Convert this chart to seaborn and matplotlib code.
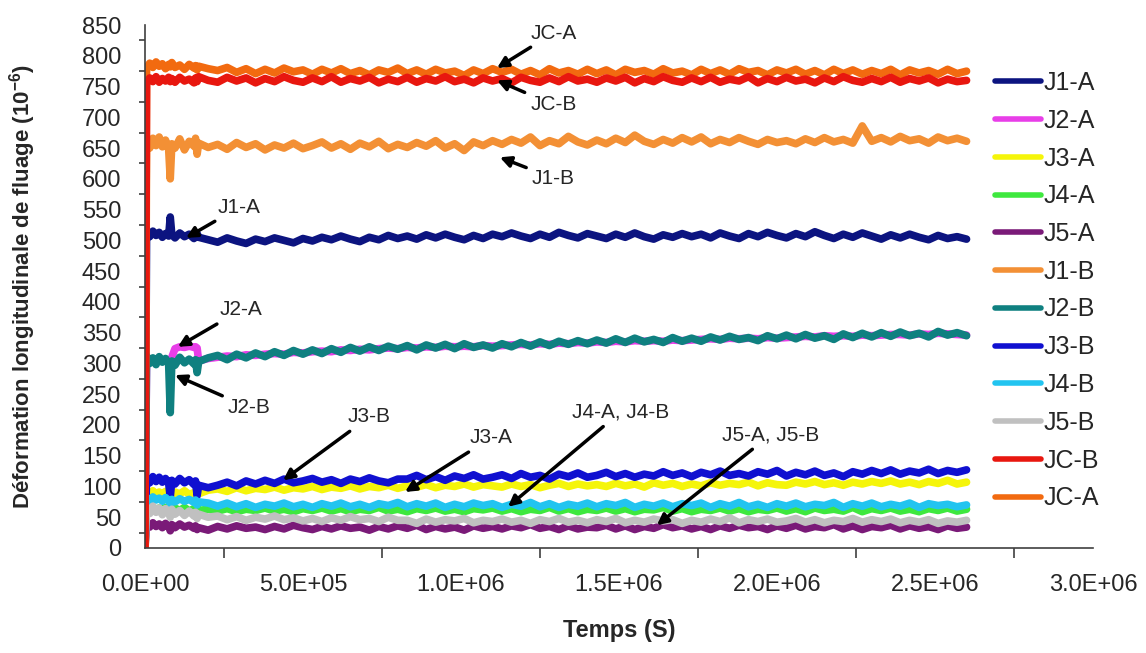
import matplotlib
matplotlib.use("Agg")
import matplotlib.pyplot as plt
import seaborn as sns
from matplotlib.ticker import MultipleLocator, AutoMinorLocator, FuncFormatter

# ── Data ──────────────────────────────────────────────────────────────────────
# time in seconds: 20 start-up samples, then every 3e4 s up to 2.6e6 s
temps = [0, 5e3, 1.5e4, 2.5e4, 3.5e4, 4.5e4, 5.5e4, 6.5e4, 7.5e4, 8e4,
         8.5e4, 9.5e4, 1.1e5, 1.25e5, 1.4e5, 1.55e5, 1.6e5, 1.65e5, 1.7e5, 2.0e5] + \
        [2.3e5 + 3e4 * k for k in range(80)]

j1_a = [0, 512, 506, 515, 508, 513, 505, 511, 507, 538,
        509, 504, 512, 506, 510, 503, 508, 511, 505, 501,
        497, 504, 499, 495, 502, 498, 504, 500, 496, 503,
        499, 505, 501, 507, 502, 498, 505, 501, 508, 503,
        507, 502, 509, 504, 510, 505, 501, 508, 503, 510,
        506, 512, 507, 503, 510, 505, 513, 508, 504, 511,
        507, 503, 510, 505, 512, 506, 502, 509, 505, 511,
        506, 510, 504, 512, 507, 503, 511, 506, 513, 508,
        504, 511, 506, 514, 508, 503, 510, 505, 512, 507,
        502, 509, 504, 510, 505, 501, 508, 503, 506, 502]
j2_a = [0, 306, 303, 305, 302, 306, 304, 305, 303, 306,
        310, 324, 327, 326, 328, 326, 327, 325, 304, 308,
        310, 312, 311, 314, 313, 315, 316, 315, 318, 317,
        319, 320, 319, 322, 321, 323, 322, 324, 325, 324,
        326, 325, 327, 326, 328, 327, 328, 327, 329, 328,
        329, 330, 331, 330, 332, 331, 333, 332, 334, 333,
        335, 334, 336, 335, 337, 336, 337, 336, 338, 337,
        338, 339, 340, 339, 341, 340, 341, 340, 342, 341,
        342, 343, 344, 343, 345, 344, 345, 344, 346, 345,
        346, 347, 347, 346, 348, 347, 349, 348, 347, 346]
j3_a = [0, 92, 87, 93, 88, 91, 86, 92, 87, 90,
        86, 91, 88, 93, 87, 90, 85, 92, 88, 94,
        96, 92, 98, 93, 97, 95, 99, 94, 98, 96,
        100, 95, 99, 97, 101, 96, 100, 98, 102, 97,
        101, 99, 103, 98, 102, 100, 104, 99, 103, 101,
        99, 104, 100, 103, 98, 102, 105, 100, 104, 101,
        103, 100, 105, 101, 104, 99, 106, 102, 105, 100,
        104, 101, 106, 102, 105, 103, 107, 101, 106, 103,
        102, 107, 104, 108, 103, 106, 102, 107, 104, 108,
        105, 109, 104, 107, 103, 108, 105, 110, 104, 107]
j4_a = [0, 66, 61, 67, 62, 65, 60, 66, 61, 64,
        60, 65, 61, 66, 60, 64, 59, 65, 61, 63,
        60, 64, 59, 63, 61, 65, 60, 63, 59, 64,
        61, 65, 60, 64, 59, 63, 61, 66, 60, 63,
        59, 64, 61, 65, 60, 63, 59, 64, 62, 65,
        60, 64, 59, 63, 61, 66, 60, 64, 59, 63,
        61, 65, 60, 64, 59, 63, 62, 66, 60, 64,
        59, 63, 61, 65, 60, 64, 59, 63, 61, 65,
        60, 64, 59, 65, 61, 63, 60, 66, 59, 64,
        61, 65, 60, 63, 59, 64, 61, 65, 60, 63]
j5_a = [0, 40, 34, 41, 35, 39, 33, 40, 35, 28,
        38, 33, 39, 34, 37, 32, 36, 30, 33, 29,
        35, 31, 36, 32, 34, 30, 35, 31, 37, 33,
        30, 35, 31, 36, 32, 34, 29, 35, 31, 36,
        32, 37, 30, 35, 31, 34, 29, 36, 32, 35,
        31, 36, 33, 38, 32, 35, 30, 36, 31, 34,
        33, 37, 31, 36, 30, 35, 32, 38, 33, 36,
        31, 35, 30, 36, 32, 37, 33, 35, 30, 36,
        32, 37, 31, 35, 33, 38, 31, 36, 30, 35,
        33, 37, 31, 36, 32, 35, 30, 36, 32, 34]
j1_b = [0, 660, 650, 666, 654, 668, 652, 663, 648, 600,
        657, 650, 665, 647, 661, 653, 666, 640, 658, 651,
        656, 648, 659, 651, 657, 647, 655, 650, 658, 649,
        654, 660, 650, 657, 648, 658, 652, 661, 649, 656,
        651, 659, 653, 662, 650, 657, 646, 660, 654, 662,
        656, 664, 658, 668, 654, 662, 657, 669, 660, 655,
        663, 657, 666, 659, 671, 661, 656, 664, 658, 667,
        660, 668, 657, 664, 659, 667, 661, 656, 664, 659,
        662, 657, 665, 659, 667, 660, 664, 658, 686, 661,
        667, 660, 669, 662, 665, 658, 668, 662, 666, 661]
j2_b = [0, 312, 300, 309, 298, 311, 302, 308, 299, 220,
        304, 297, 310, 301, 307, 299, 306, 285, 303, 309,
        313, 306, 315, 309, 317, 311, 319, 313, 321, 315,
        322, 316, 324, 318, 326, 320, 327, 321, 328, 323,
        329, 322, 330, 325, 331, 324, 332, 326, 330, 325,
        332, 327, 334, 328, 335, 329, 336, 331, 337, 332,
        338, 333, 340, 334, 341, 335, 339, 334, 342, 336,
        341, 336, 343, 338, 344, 339, 342, 337, 345, 340,
        346, 340, 347, 341, 345, 339, 348, 342, 349, 343,
        350, 344, 351, 345, 349, 343, 352, 346, 350, 345]
j3_b = [0, 114, 106, 116, 108, 115, 107, 113, 105, 83,
        110, 104, 113, 106, 111, 103, 109, 85, 102, 98,
        102, 107, 101, 109, 104, 110, 105, 112, 106, 109,
        113, 107, 111, 105, 112, 108, 114, 109, 106, 112,
        112, 118, 111, 116, 110, 117, 113, 119, 112, 115,
        119, 113, 121, 115, 118, 112, 120, 116, 122, 115,
        118, 123, 116, 121, 115, 120, 117, 124, 118, 122,
        116, 123, 119, 125, 118, 121, 117, 124, 120, 126,
        117, 123, 119, 125, 118, 122, 116, 124, 120, 126,
        121, 127, 120, 125, 122, 128, 121, 126, 123, 127]
j4_b = [0, 82, 77, 83, 78, 81, 76, 82, 77, 72,
        79, 75, 80, 76, 79, 74, 78, 70, 75, 73,
        68, 73, 67, 72, 66, 71, 68, 73, 67, 71,
        66, 72, 68, 73, 67, 71, 66, 72, 69, 74,
        67, 72, 68, 73, 66, 71, 67, 73, 69, 72,
        66, 71, 68, 74, 67, 72, 66, 71, 68, 73,
        67, 72, 69, 74, 66, 71, 68, 73, 67, 72,
        69, 73, 66, 72, 68, 74, 67, 71, 66, 72,
        68, 73, 67, 71, 69, 74, 66, 72, 68, 73,
        67, 71, 68, 73, 66, 72, 69, 71, 67, 70]
j5_b = [0, 66, 56, 68, 58, 65, 54, 64, 57, 50,
        63, 55, 61, 53, 60, 52, 58, 48, 55, 50,
        52, 46, 51, 45, 50, 47, 52, 46, 49, 44,
        48, 43, 49, 45, 51, 46, 48, 43, 50, 45,
        45, 40, 47, 42, 46, 44, 48, 41, 45, 43,
        47, 42, 45, 40, 46, 43, 48, 42, 45, 41,
        46, 43, 48, 41, 45, 42, 47, 44, 46, 40,
        45, 42, 47, 43, 49, 41, 46, 43, 47, 42,
        44, 48, 42, 46, 41, 45, 43, 48, 42, 46,
        43, 47, 41, 45, 42, 46, 40, 44, 42, 45]
jc_b = [0, 756, 764, 758, 766, 757, 763, 759, 765, 758,
        763, 757, 765, 759, 762, 756, 764, 758, 766, 760,
        757, 765, 759, 764, 756, 763, 758, 766, 760, 757,
        764, 758, 766, 757, 763, 759, 765, 756, 762, 758,
        765, 757, 763, 759, 766, 758, 762, 756, 764, 759,
        763, 756, 765, 760, 757, 764, 758, 766, 759, 762,
        757, 764, 759, 765, 756, 763, 758, 766, 760, 757,
        764, 758, 765, 757, 762, 759, 766, 756, 763, 758,
        765, 759, 762, 756, 764, 758, 766, 760, 757, 763,
        758, 765, 757, 763, 759, 764, 756, 762, 758, 760]
jc_a = [0, 780, 788, 781, 790, 783, 787, 779, 786, 782,
        789, 781, 785, 778, 786, 780, 784, 777, 783, 779,
        776, 781, 773, 779, 771, 778, 772, 780, 774, 777,
        770, 778, 772, 779, 771, 776, 769, 777, 773, 780,
        771, 777, 770, 778, 772, 775, 768, 777, 771, 779,
        773, 778, 770, 776, 769, 779, 772, 776, 770, 778,
        771, 777, 769, 778, 773, 776, 770, 779, 772, 775,
        769, 778, 771, 777, 770, 779, 773, 776, 769, 777,
        772, 778, 770, 776, 769, 778, 771, 777, 770, 776,
        771, 778, 769, 777, 772, 776, 770, 778, 771, 775]

# legend order
noms = ["J1-A", "J2-A", "J3-A", "J4-A", "J5-A",
        "J1-B", "J2-B", "J3-B", "J4-B", "J5-B", "JC-B", "JC-A"]
series = {"J1-A": j1_a, "J2-A": j2_a, "J3-A": j3_a, "J4-A": j4_a, "J5-A": j5_a,
          "J1-B": j1_b, "J2-B": j2_b, "J3-B": j3_b, "J4-B": j4_b, "J5-B": j5_b,
          "JC-B": jc_b, "JC-A": jc_a}
couleurs = {"J1-A": "#0c1480", "J2-A": "#e83ee8", "J3-A": "#f5f50a",
            "J4-A": "#3ee83e", "J5-A": "#7a1a78", "J1-B": "#f39035",
            "J2-B": "#0f8080", "J3-B": "#1010d0", "J4-B": "#22c4f0",
            "J5-B": "#c0c0c0", "JC-B": "#e8170f", "JC-A": "#f26a10"}
# drawing order (JC-B sits on top of JC-A)
ordre_trace = ["J1-A", "J2-A", "J3-A", "J4-A", "J5-A",
               "J1-B", "J2-B", "J3-B", "J4-B", "J5-B", "JC-A", "JC-B"]

# annotations: label, text position, arrow head position
annotations = [
    ("JC-A", (1.22e6, 837), (1.114e6, 780)),
    ("JC-B", (1.22e6, 720), (1.114e6, 760)),
    ("J1-B", (1.225e6, 601), (1.123e6, 635)),
    ("J1-A", (2.31e5, 554), (1.30e5, 504)),
    ("J2-A", (2.37e5, 387), (1.04e5, 327)),
    ("J2-B", (2.63e5, 228), (0.95e5, 281)),
    ("J3-B", (6.42e5, 213), (4.37e5, 110)),
    ("J3-A", (1.028e6, 179), (8.23e5, 91)),
    ("J4-A, J4-B", (1.351e6, 221), (1.149e6, 67)),
    ("J5-A, J5-B", (1.826e6, 184), (1.62e6, 37)),
]

# ── Plot ───────────────────────────────────────────────────────────────────────
sns.set_style("white")
plt.rcParams["font.family"] = ["Liberation Sans", "DejaVu Sans"]
plt.rcParams["mathtext.fontset"] = "custom"
plt.rcParams["mathtext.rm"] = "Liberation Sans"
plt.rcParams["mathtext.bf"] = "Liberation Sans:bold"

fig = plt.figure(figsize=(11.46, 6.53), dpi=100)
ax = fig.add_axes([0.1265, 0.1608, 0.8272, 0.8009])

lignes = {}
for nom in ordre_trace:
    sns.lineplot(x=temps, y=series[nom], color=couleurs[nom], lw=5.5,
                 ax=ax, label=nom, estimator=None)
    lignes[nom] = ax.get_lines()[-1]

for texte, (xt, yt), (xh, yh) in annotations:
    ax.annotate(texte, xy=(xh, yh), xytext=(xt, yt), fontsize=15,
                ha="left", va="center",
                arrowprops=dict(arrowstyle="-|>", color="black", lw=2.5,
                                mutation_scale=16, shrinkA=2, shrinkB=0))

ax.set_xlim(0, 3e6)
ax.set_ylim(0, 850)
ax.xaxis.set_major_locator(MultipleLocator(5e5))
ax.xaxis.set_minor_locator(AutoMinorLocator(2))
ax.yaxis.set_major_locator(MultipleLocator(50))
ax.yaxis.set_minor_locator(AutoMinorLocator(2))
ax.xaxis.set_major_formatter(FuncFormatter(lambda v, p: f"{v:.1E}"))
ax.tick_params(axis="both", which="major", labelsize=17, direction="out",
               length=7, width=1.2, color="#404040")
ax.tick_params(axis="x", which="minor", direction="out", length=7,
               width=1.2, color="#404040", bottom=True)
ax.tick_params(axis="y", which="minor", direction="out", length=4,
               width=1.2, color="#404040", left=True)
ax.tick_params(axis="x", which="major", pad=12)
ax.tick_params(axis="y", which="major", pad=10)

sns.despine(ax=ax)
for s in ("left", "bottom"):
    ax.spines[s].set_color("#404040")
    ax.spines[s].set_linewidth(1.2)

ax.set_xlabel("Temps (S)", fontsize=17, fontweight="bold", va="top")
ax.xaxis.set_label_coords(0.5, -0.136)
ax.set_ylabel(r"Déformation longitudinale de fluage (10$^{\mathbf{-6}}$)",
              fontsize=16, fontweight="bold")
ax.yaxis.set_label_coords(-0.113, 0.5)

leg = ax.legend([lignes[n] for n in noms], noms, loc="upper left",
                bbox_to_anchor=(995 / 1146, 1 - 71 / 653),
                bbox_transform=fig.transFigure, frameon=False, fontsize=18,
                handlelength=1.85, handletextpad=0.1, labelspacing=0.55,
                borderpad=0, borderaxespad=0)
for h in leg.get_lines():
    h.set_linewidth(4)

fig.savefig("out.png", dpi=100)
